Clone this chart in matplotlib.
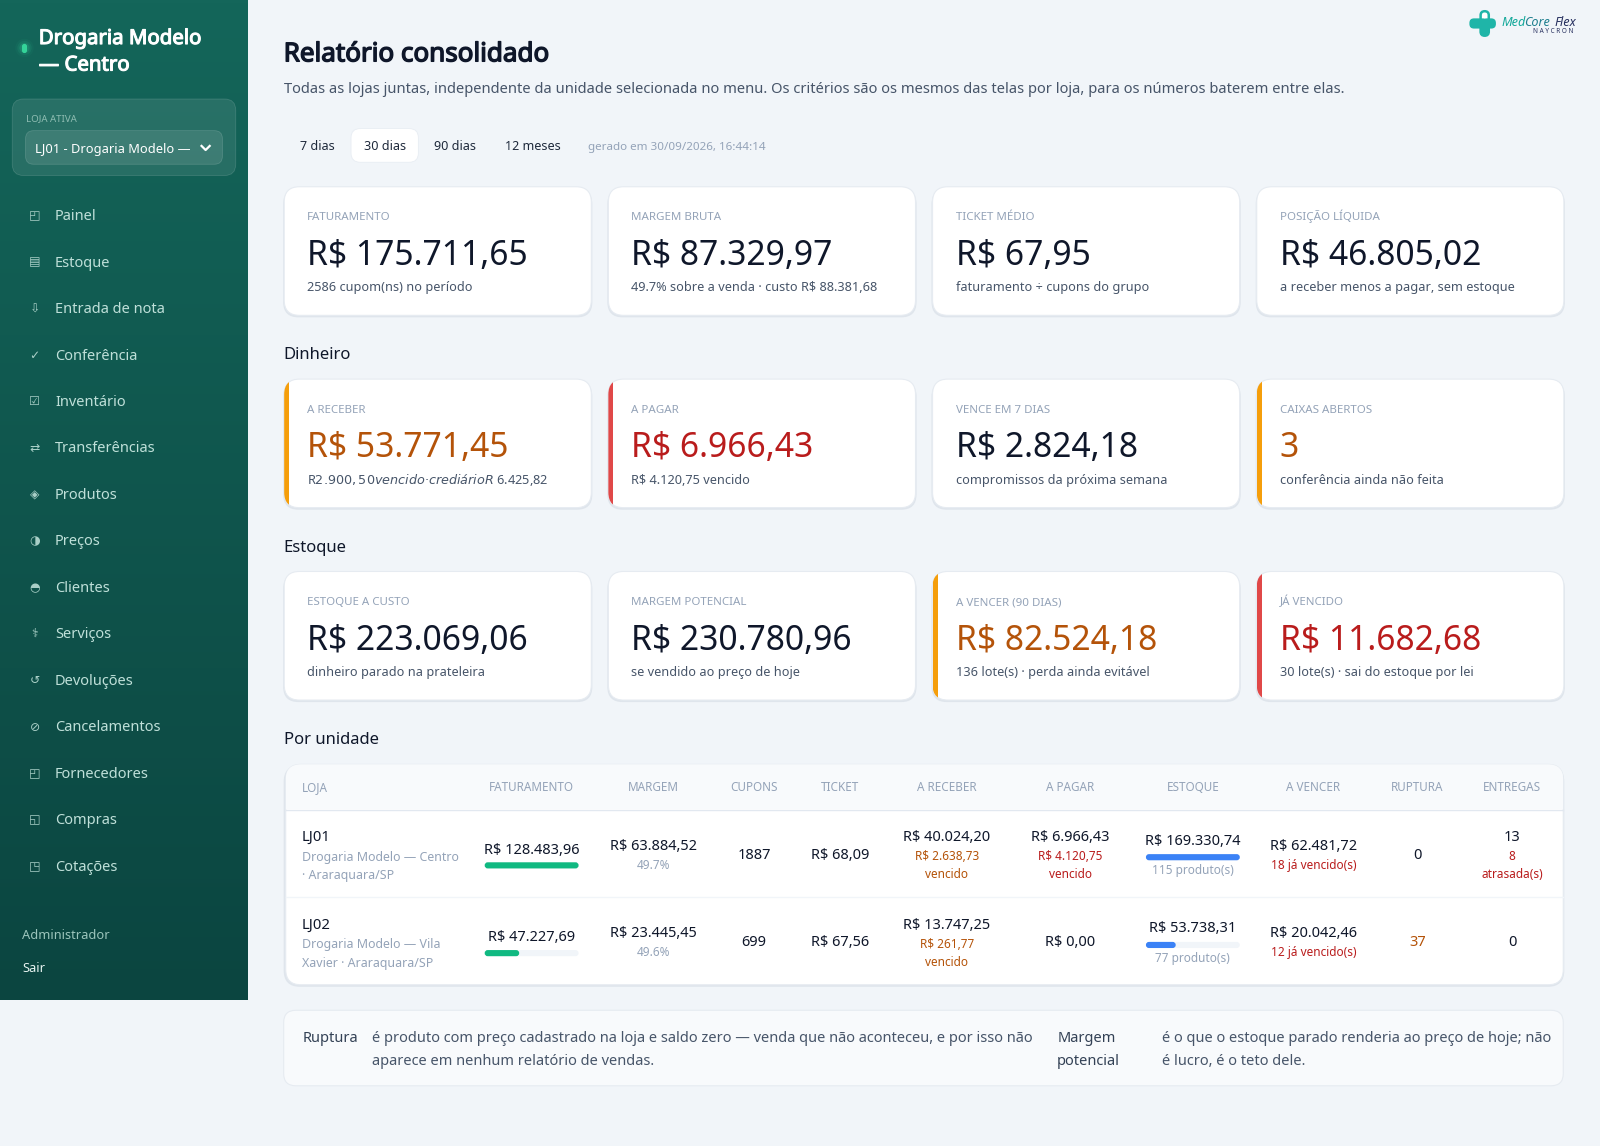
import matplotlib
matplotlib.use("Agg")
import matplotlib.pyplot as plt
import matplotlib.patheffects as pe
import numpy as np
from matplotlib.colors import LinearSegmentedColormap
from matplotlib.patches import FancyBboxPatch, Rectangle, Circle

plt.rcParams['font.family'] = ['Noto Sans', 'DejaVu Sans']

# sidebar
store_title = ["Drogaria Modelo", "— Centro"]
nav_labels = ["Painel", "Estoque", "Entrada de nota", "Conferência", "Inventário", "Transferências",
              "Produtos", "Preços", "Clientes", "Serviços", "Devoluções", "Cancelamentos",
              "Fornecedores", "Compras", "Cotações"]
nav_icons = ["◰", "▤", "⇩", "✓", "☑", "⇄", "◈", "◑", "◓", "⚕", "↺", "⊘", "◰", "◱", "◳"]
period_labels = ["7 dias", "30 dias", "90 dias", "12 meses"]

# kpi cards, one list per row
sections = ["Dinheiro", "Estoque", "Por unidade"]
row1_labels = ["FATURAMENTO", "MARGEM BRUTA", "TICKET MÉDIO", "POSIÇÃO LÍQUIDA"]
row1_values = ["R$ 175.711,65", "R$ 87.329,97", "R$ 67,95", "R$ 46.805,02"]
row1_notes = ["2586 cupom(ns) no período", "49.7% sobre a venda · custo R$ 88.381,68",
              "faturamento ÷ cupons do grupo", "a receber menos a pagar, sem estoque"]
row1_tone = [None, None, None, None]
row2_labels = ["A RECEBER", "A PAGAR", "VENCE EM 7 DIAS", "CAIXAS ABERTOS"]
row2_values = ["R$ 53.771,45", "R$ 6.966,43", "R$ 2.824,18", "3"]
row2_notes = ["R$ 2.900,50 vencido · crediário R$ 6.425,82", "R$ 4.120,75 vencido",
              "compromissos da próxima semana", "conferência ainda não feita"]
row2_tone = ["warn", "bad", None, "warn"]
row3_labels = ["ESTOQUE A CUSTO", "MARGEM POTENCIAL", "A VENCER (90 DIAS)", "JÁ VENCIDO"]
row3_values = ["R$ 223.069,06", "R$ 230.780,96", "R$ 82.524,18", "R$ 11.682,68"]
row3_notes = ["dinheiro parado na prateleira", "se vendido ao preço de hoje",
              "136 lote(s) · perda ainda evitável", "30 lote(s) · sai do estoque por lei"]
row3_tone = [None, None, "warn", "bad"]

# table
table_headers = ["FATURAMENTO", "MARGEM", "CUPONS", "TICKET", "A RECEBER", "A PAGAR",
                 "ESTOQUE", "A VENCER", "RUPTURA", "ENTREGAS"]
store_codes = ["LJ01", "LJ02"]
store_names = [["Drogaria Modelo — Centro", "· Araraquara/SP"], ["Drogaria Modelo — Vila", "Xavier · Araraquara/SP"]]
fat_values = [128483.96, 47227.69]
fat_text = ["R$ 128.483,96", "R$ 47.227,69"]
margem_text = ["R$ 63.884,52", "R$ 23.445,45"]
margem_pct = ["49.7%", "49.6%"]
cupons = ["1887", "699"]
tickets = ["R$ 68,09", "R$ 67,56"]
receber_text = ["R$ 40.024,20", "R$ 13.747,25"]
receber_late = [["R$ 2.638,73", "vencido"], ["R$ 261,77", "vencido"]]
pagar_text = ["R$ 6.966,43", "R$ 0,00"]
pagar_late = [["R$ 4.120,75", "vencido"], None]
estoque_values = [169330.74, 53738.31]
estoque_text = ["R$ 169.330,74", "R$ 53.738,31"]
estoque_prod = ["115 produto(s)", "77 produto(s)"]
vencer_text = ["R$ 62.481,72", "R$ 20.042,46"]
vencer_late = ["18 já vencido(s)", "12 já vencido(s)"]
ruptura = ["0", "37"]
entregas = ["13", "0"]
entregas_late = [["8", "atrasada(s)"], None]

NAVY = "#0f172a"
GRAY = "#94a3b8"
SLATE = "#475569"
ORANGE = "#b45309"
RED = "#b91c1c"
TONE_TEXT = {"warn": ORANGE, "bad": RED, None: NAVY}
TONE_BAR = {"warn": "#f59e0b", "bad": "#e04848"}

fig = plt.figure(figsize=(16, 11.46), dpi=100, facecolor="#f1f5f9")
ax = fig.add_axes([0, 0, 1, 1])
W, H = 1568, 1123
SCALE = 1600 / W


def txt(x, yc, s, size, color=NAVY, weight="normal", ha="left", heavy=0, **kw):
    # yc is the middle of the capitals, size in screen px
    t = ax.text(x, yc + 0.357 * size, s, fontsize=size * SCALE * 0.72, color=color,
                fontweight=weight, ha=ha, va="baseline", **kw)
    if heavy:
        t.set_path_effects([pe.withStroke(linewidth=heavy, foreground=color)])
    return t


def box(x0, y0, x1, y1, r, fc, ec="none", lw=0, z=1, alpha=None):
    p = FancyBboxPatch((x0 + r, y0 + r), x1 - x0 - 2 * r, y1 - y0 - 2 * r,
                       boxstyle=f"round,pad={r},rounding_size={r}",
                       fc=fc, ec=ec, lw=lw, zorder=z, alpha=alpha)
    ax.add_patch(p)
    return p


# sidebar with gradient
side_cmap = LinearSegmentedColormap.from_list("side", ["#14665a", "#0b4540"])
ax.imshow(np.linspace(0, 1, 256).reshape(-1, 1), cmap=side_cmap, extent=[0, 243, 980, 0], aspect="auto", zorder=0)

for r, a in [(9, 0.05), (7, 0.1), (5, 0.18)]:
    ax.add_patch(Circle((24, 47), r, fc="#34d399", alpha=a, zorder=2))
box(21.5, 43, 26.5, 52, 2.5, "#34d399", z=3)
txt(38, 36, store_title[0], 20, "white", "bold", heavy=0.8)
txt(38, 62, store_title[1], 20, "white", "bold", heavy=0.8)

box(12, 97, 231, 172, 11, "#ffffff", z=1, alpha=0.09)
box(12, 97, 231, 172, 11, "none", ec="#ffffff", lw=0.6, z=1, alpha=0.14)
txt(25, 115, "LOJA ATIVA", 9.5, "#8fbdb3", "bold")
box(25, 128, 218, 161, 8, "#ffffff", z=2, alpha=0.1)
box(25, 128, 218, 161, 8, "none", ec="#ffffff", lw=0.6, z=2, alpha=0.15)
txt(34, 145, "LJ01 - Drogaria Modelo —", 12.6, "white", "medium", zorder=3)
ax.plot([197.5, 201.5, 205.5], [143, 147, 143], color="white", lw=1.6, zorder=3)

nav_step = 45.56
for i, (icon, label) in enumerate(zip(nav_icons, nav_labels)):
    y = 210.5 + i * nav_step
    txt(34, y, icon, 12, "#a9cfc7", ha="center", family="DejaVu Sans")
    txt(54, y, label, 14.3, "#bfe0d9", "medium")
txt(22, 916, "Administrador", 12.6, "#9cc5bc")
txt(22, 948, "Sair", 12.6, "#e6f3f0", "medium")

# logo
LOGO = "#1fb5a8"
box(1451, 11, 1459, 35, 4, "white", ec=LOGO, lw=1.8, z=2)
box(1440, 18, 1466, 28, 4.5, LOGO, z=3)
box(1451, 22, 1459, 35, 4, LOGO, z=3)
box(1453, 13, 1457, 18, 2, "white", z=4)
txt(1471, 21, "Med", 12.4, "#12a89a", "bold", style="italic")
txt(1494, 21, "Core", 12.4, "#1f7f8f", "bold", style="italic")
txt(1523, 21, "Flex", 12.4, "#27305f", "bold", style="italic")
txt(1502, 30, "N A Y C R O N", 6.3, "#27305f", "bold")

# heading
txt(278, 51, "Relatório consolidado", 25.5, NAVY, "bold", heavy=1.0)
txt(278, 86, "Todas as lojas juntas, independente da unidade selecionada no menu. Os critérios são os mesmos das telas por loja, para os números baterem entre elas.",
    14.4, SLATE)

# period pills
box(344, 126, 410, 159, 9, "white", ec="#e8edf3", lw=0.6)
for x, label, weight in zip([311, 377, 446, 522], period_labels, ["normal", "medium", "normal", "normal"]):
    txt(x, 143, label, 12.3, "#1e293b", weight, ha="center")
txt(576, 143, "gerado em 30/09/2026, 16:44:14", 11.4, GRAY)


def card_row(y0, labels, values, notes, tones):
    for i in range(4):
        x0 = 278.5 + i * 317.7
        x1 = x0 + 301
        box(x0 - 1, y0 + 2, x1 + 1, y0 + 128, 15, "#dfe5ec", z=1)
        p = box(x0, y0, x1, y0 + 126, 15, "white", ec="#e6ebf1", lw=0.8, z=2)
        if tones[i]:
            stripe = Rectangle((x0, y0), 5, 126, fc=TONE_BAR[tones[i]], ec="none", zorder=3)
            ax.add_patch(stripe)
            stripe.set_clip_path(p)
        txt(x0 + 22.5, y0 + 29, labels[i], 11.3, GRAY, "bold", zorder=4)
        txt(x0 + 22.5, y0 + 65, values[i], 33, TONE_TEXT[tones[i]], "bold", zorder=4)
        txt(x0 + 22.5, y0 + 98, notes[i], 12.5, SLATE, zorder=4)


card_row(183, row1_labels, row1_values, row1_notes, row1_tone)
card_row(371.5, row2_labels, row2_values, row2_notes, row2_tone)
card_row(560, row3_labels, row3_values, row3_notes, row3_tone)

for y, s in zip([346, 535, 723.5], sections):
    txt(278, y, s, 16.3, NAVY, "bold")

# table
box(278, 750, 1533, 967, 16, "#dfe5ec", z=1)
table = box(280, 749, 1532, 965, 15, "white", ec="#e6ebf1", lw=0.8, z=2)
head = Rectangle((280, 749), 1252, 44, fc="#f8fafc", ec="none", zorder=3)
ax.add_patch(head)
head.set_clip_path(table)
ax.plot([280, 1532], [793.5, 793.5], color="#e2e8f0", lw=1, zorder=4)
ax.plot([280, 1532], [879, 879], color="#f1f5f9", lw=1, zorder=4)

col_x = [521, 640, 739, 823, 928, 1049, 1169, 1287, 1389, 1482]
txt(296, 771.5, "LOJA", 11.5, GRAY, "bold", zorder=5)
for x, s in zip(col_x, table_headers):
    txt(x, 771.5, s, 11.5, GRAY, "bold", ha="center", zorder=5)


def bar(x, yc, frac, color):
    width = 92
    box(x - width / 2, yc - 3, x + width / 2, yc + 3, 3, "#f1f5f9", z=4)
    box(x - width / 2, yc - 3, x - width / 2 + width * frac, yc + 3, 3, color, z=5)


for i in range(2):
    d = i * 86
    txt(296, 819 + d, store_codes[i], 14.5, NAVY, "bold", zorder=5)
    txt(296, 839 + d, store_names[i][0], 12.2, GRAY, zorder=5)
    txt(296, 857 + d, store_names[i][1], 12.2, GRAY, zorder=5)

    txt(521, 832 + d - (1 if i else 0), fat_text[i], 14.3, NAVY, ha="center", zorder=5)
    bar(521, 848 + d, fat_values[i] / max(fat_values), "#10b981")

    txt(640, 828 + d - (1 if i else 0), margem_text[i], 14.3, NAVY, ha="center", zorder=5)
    txt(640, 847 + d, margem_pct[i], 11.6, GRAY, ha="center", zorder=5)
    txt(739, 837 + d - (1 if i else 0), cupons[i], 14.3, NAVY, ha="center", zorder=5)
    txt(823, 837 + d - (1 if i else 0), tickets[i], 14.3, NAVY, ha="center", zorder=5)

    txt(928, 819 + d, receber_text[i], 14.3, NAVY, ha="center", zorder=5)
    for j, s in enumerate(receber_late[i]):
        txt(928, 838.5 + d + j * 18, s, 11.6, ORANGE, ha="center", zorder=5)

    if pagar_late[i]:
        txt(1049, 819 + d, pagar_text[i], 14.3, NAVY, ha="center", zorder=5)
        for j, s in enumerate(pagar_late[i]):
            txt(1049, 838.5 + d + j * 18, s, 11.6, RED, ha="center", zorder=5)
    else:
        txt(1049, 836 + d, pagar_text[i], 14.3, NAVY, ha="center", zorder=5)

    txt(1169, 823 + d - (1 if i else 0), estoque_text[i], 14.3, NAVY, ha="center", zorder=5)
    bar(1169, 840 + d, estoque_values[i] / max(estoque_values), "#3b82f6")
    txt(1169, 852.5 + d, estoque_prod[i], 11.6, GRAY, ha="center", zorder=5)

    txt(1287, 828 + d - (1 if i else 0), vencer_text[i], 14.3, NAVY, ha="center", zorder=5)
    txt(1287, 847.5 + d - (1 if i else 0), vencer_late[i], 11.6, RED, ha="center", zorder=5)

    rup_hot = ruptura[i] != "0"
    txt(1389, 837 + d - (1 if i else 0), ruptura[i], 14.3, ORANGE if rup_hot else NAVY,
        "bold" if rup_hot else "normal", ha="center", zorder=5)

    if entregas_late[i]:
        txt(1482, 819 + d, entregas[i], 14.3, NAVY, ha="center", zorder=5)
        for j, s in enumerate(entregas_late[i]):
            txt(1482, 838.5 + d + j * 18, s, 11.6, RED, ha="center", zorder=5)
    else:
        txt(1482, 836 + d, entregas[i], 14.3, NAVY, ha="center", zorder=5)

# footnote
box(278, 990, 1532, 1064, 12, "#f8fafc", ec="#e6ebf1", lw=0.8)
txt(297, 1016, "Ruptura", 14.3, "#334155", "bold")
txt(364.5, 1016, "é produto com preço cadastrado na loja e saldo zero — venda que não aconteceu, e por isso não", 14.3, SLATE)
txt(364.5, 1039, "aparece em nenhum relatório de vendas.", 14.3, SLATE)
txt(1036, 1016, "Margem", 14.3, "#334155", "bold")
txt(1036, 1039, "potencial", 14.3, "#334155", "bold")
txt(1139, 1016, "é o que o estoque parado renderia ao preço de hoje; não", 14.3, SLATE)
txt(1139, 1039, "é lucro, é o teto dele.", 14.3, SLATE)

ax.set_xlim(0, W)
ax.set_ylim(H, 0)
ax.axis("off")
fig.savefig("out.png", dpi=100, facecolor=fig.get_facecolor())
